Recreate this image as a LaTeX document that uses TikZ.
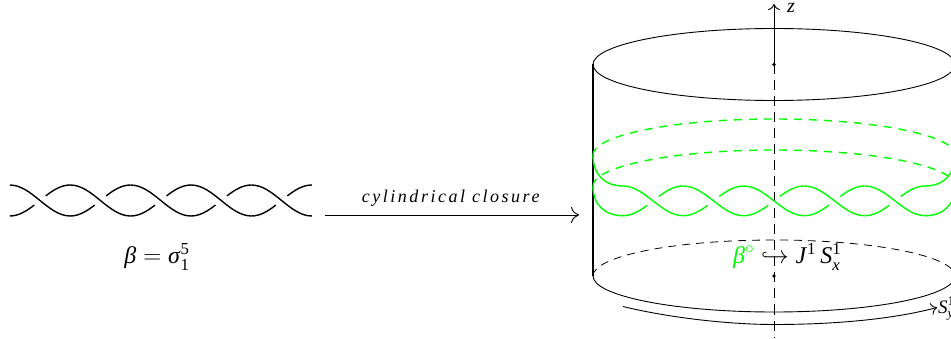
\documentclass[tikz,border=0pt]{standalone}
\usepackage{amsmath,amssymb}
\usepackage{fontspec}
\setmainfont{Liberation Serif}
\usetikzlibrary{arrows.meta}
\definecolor{brgreen}{RGB}{0,255,0}
\newcommand{\mi}[1]{\text{\textit{#1}}}
\newcommand{\mr}[1]{\text{#1}}
\tikzset{
  x=1pt,y=-1pt,
  strand/.style={line width=1.4pt,line cap=butt},
  wire/.style={line width=0.9pt},
  wall/.style={line width=1.6pt},
  dashedwire/.style={line width=0.8pt,dash pattern=on 8pt off 6pt},
  axisdash/.style={line width=0.9pt,dash pattern=on 10pt off 6pt},
  greendash/.style={brgreen,line width=1.4pt,dash pattern=on 8pt off 7pt},
  arr/.style={line width=0.9pt,-{To[length=6pt,width=12pt]}},
  bigarr/.style={line width=0.9pt,-{To[length=8pt,width=16pt]}},
  lbl/.style={inner sep=0pt},
}
% \brcross{centre x}{top y}{bottom y}{colour}: over strand whole, under strand in two pieces
\newcommand{\brcross}[4]{%
  \pgfmathsetmacro{\hh}{#3-#2}%
  \draw[strand,#4] ({#1-30.2},#2) .. controls ({#1-8},#2) and ({#1+8},#3) .. ({#1+30.2},#3);
  \draw[strand,#4] ({#1-30.2},#3) .. controls ({#1-21.32},#3) and ({#1-13.43},{#3-.16*\hh}) .. ({#1-5.74},{#3-.352*\hh});
  \draw[strand,#4] ({#1+5.74},{#2+.352*\hh}) .. controls ({#1+13.43},{#2+.16*\hh}) and ({#1+21.32},#2) .. ({#1+30.2},#2);
}
\begin{document}
\begin{tikzpicture}
\useasboundingbox (0,0) rectangle (951,339);
\clip (0,0) rectangle (951,339);
% left braid
\foreach \cx in {40,100.4,160.8,221.2,281.6} {\brcross{\cx}{185}{216}{black}}
\node[lbl,anchor=base,font=\fontsize{24}{26}\selectfont] (beta) at (157,264) {$\mi{β}=\mi{σ}_{\mr{1}}^{\mr{5}}$};
% closure arrow
\coordinate (ca) at (325,215);
\coordinate (cb) at (579,215);
\draw[bigarr] (ca) -- (cb);
\node[lbl,anchor=base,font=\fontsize{18}{20}\selectfont] (cl) at (452,203) {\addfontfeatures{LetterSpace=14}\textit{cylindrical closure}};
% cylinder
\coordinate (tc) at (774,64.5);
\coordinate (bc) at (774,276);
\coordinate (ztip) at (774,4);
\coordinate (zend) at (774,337);
\draw[axisdash] (tc) -- (zend);
\draw[arr] (tc) -- (ztip);
\fill (tc) circle (1.8);
\fill (bc) circle (1.8);
\draw[wire] (tc) ellipse (181 and 36);
\draw[wall] (593,64.5) -- (593,276);
\draw[wire] (593,276) arc (180:0:181 and 36);
\draw[dashedwire] (593,276) arc (180:360:181 and 36);
% green
\draw[greendash] (593,155) arc (180:360:181 and 36);
\draw[greendash] (593,186) arc (180:360:181 and 36);
\foreach \cx in {653,713.5,774,834.5,895} {\brcross{\cx}{186}{215.7}{brgreen}}
\draw[strand,brgreen] (593,155) .. controls (593,175) and (605,186) .. (623,186);
\draw[strand,brgreen] (593,186) .. controls (593,205) and (605,215.7) .. (623,215.7);
\draw[strand,brgreen] (925,186) .. controls (943,186) and (955,175) .. (955,155);
\draw[strand,brgreen] (925,215.7) .. controls (943,215.7) and (955,205) .. (955,186);
% labels
\node[lbl,anchor=base west,font=\fontsize{24}{26}\selectfont] (emb) at (733,264) {$\textcolor{brgreen}{\mi{β}^{\circ}}\hookrightarrow\mi{J}^{\mr{1}}\,\mi{S}^{\mr{1}}_{\mi{x}}$};
\node[lbl,anchor=base,font=\fontsize{20}{22}\selectfont] (zl) at (791,12.5) {$\mi{z}$};
\coordinate (sa) at (623,306.5);
\coordinate (sb) at (937,307.5);
\draw[arr] (sa) .. controls (670,318) and (730,324.5) .. (774,324.5) .. controls (830,324.5) and (890,320) .. (sb);
\node[lbl,anchor=base west,font=\fontsize{19}{21}\selectfont] (sl) at (938,313) {$\mi{S}^{\mr{1}}_{\mi{y}}$};
\end{tikzpicture}
\end{document}
